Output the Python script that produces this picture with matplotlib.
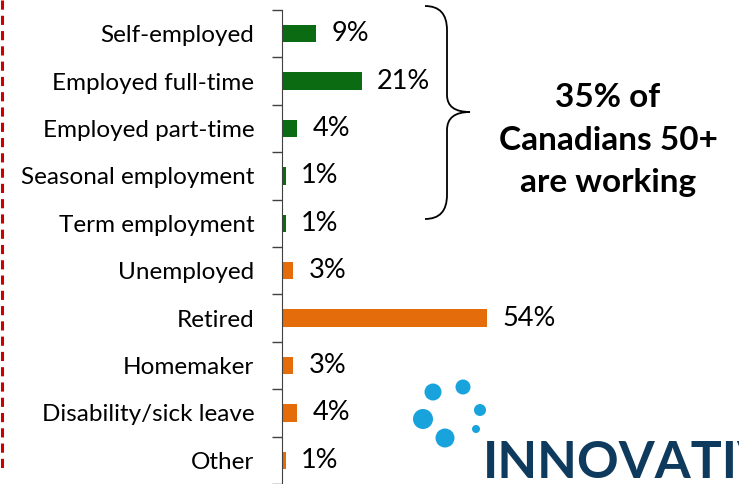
import numpy as np
import matplotlib

matplotlib.use('Agg')
import matplotlib.pyplot as plt
from matplotlib.path import Path
from matplotlib.patches import PathPatch, Circle

plt.rcParams['font.family'] = ['Lato', 'DejaVu Sans']

categories = [
    "Self-employed",
    "Employed full-time",
    "Employed part-time",
    "Seasonal employment",
    "Term employment",
    "Unemployed",
    "Retired",
    "Homemaker",
    "Disability/sick leave",
    "Other",
]
shares = [9, 21, 4, 1, 1, 3, 54, 3, 4, 1]
working = [True, True, True, True, True, False, False, False, False, False]

green = '#0b6b12'
orange = '#e46c0a'

W, H = 739, 484
fig = plt.figure(figsize=(W / 100, H / 100), dpi=100)

# overlay in pixel coordinates for the brace, divider and logo
ov = fig.add_axes([0, 0, 1, 1])
ov.set_xlim(0, W)
ov.set_ylim(H, 0)
ov.axis('off')

# bar axes: spine at x=282px, top at 10px, 3.8 px per percent
ax = fig.add_axes([282 / W, 0, (W - 282) / W, 474 / H])
ax.set_xlim(0, (W - 282) / 3.8)
ax.set_ylim(len(categories) - 0.5, -0.5)

y = np.arange(len(categories))
colors = [green if w else orange for w in working]
ax.barh(y, shares, height=0.37, color=colors)

for yi, v in zip(y, shares):
    ax.text(v + 4, yi, f"{v}%", va='center', ha='left', fontsize=19.5, color='black')

# category labels on centres, tick marks on boundaries
ax.set_yticks(y)
ax.set_yticklabels(categories, fontsize=17.5)
ax.tick_params(axis='y', which='major', length=0, pad=20)
ax.set_yticks(np.arange(len(categories) + 1) - 0.5, minor=True)
ax.tick_params(axis='y', which='minor', length=7, width=1, color='#404040', direction='out')
ax.set_xticks([])
for side in ['top', 'right', 'bottom']:
    ax.spines[side].set_visible(False)
ax.spines['left'].set_color('#404040')
ax.patch.set_alpha(0)

# red dashed divider at the far left
ov.plot([1.5, 1.5], [0, 470], color='#cc0000', lw=2.2, linestyle=(0, (3, 2)))

# curly brace grouping the employed rows
brace = Path(
    [(425, 6), (447, 6), (447, 30),
     (447, 95), (447, 112), (470, 112),
     (447, 112), (447, 130),
     (447, 195), (447, 219), (425, 219)],
    [Path.MOVETO, Path.CURVE3, Path.CURVE3,
     Path.LINETO, Path.CURVE3, Path.CURVE3,
     Path.CURVE3, Path.CURVE3,
     Path.LINETO, Path.CURVE3, Path.CURVE3])
ov.add_patch(PathPatch(brace, fill=False, lw=1.3, edgecolor='black'))

ov.text(608, 140, "35% of\nCanadians 50+\nare working",
        ha='center', va='center', fontsize=24, fontweight='bold',
        linespacing=1.55, color='black')

# logo in the lower right
dot_blue = '#19a3dd'
for cx, cy, r in [(433, 392, 8.5), (463, 387, 7.5), (423, 419, 10),
                  (480, 410, 6), (445, 438, 9.5), (476, 429, 4)]:
    ov.add_patch(Circle((cx, cy), r, color=dot_blue, lw=0))
ov.text(483, 478, "INNOVATIVE", ha='left', va='baseline',
        fontsize=37.3, fontweight='bold', color='#0e3a5e', clip_on=True)

fig.savefig('out.png', dpi=100)
